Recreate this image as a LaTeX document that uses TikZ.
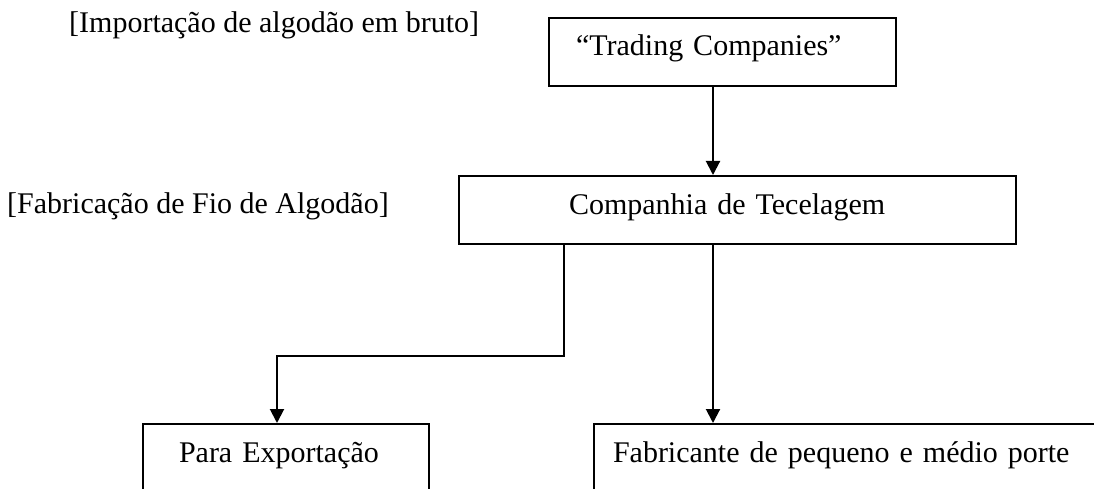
\documentclass[tikz,border=0pt]{standalone}
\usepackage{fontspec}
\setmainfont{Liberation Serif}
\usetikzlibrary{arrows.meta}

\tikzset{
  box/.style={draw, line width=2pt, anchor=north west, minimum height=68pt,
    align=left, text height=20pt, text depth=12pt, inner ysep=0pt},
  arrow/.style={line width=2pt, -{Triangle[length=14pt,width=14pt]}},
  lbl/.style={anchor=west, inner sep=0pt}
}

\begin{document}
\begin{tikzpicture}[x=1pt, y=-1pt, font=\fontsize{30}{36}\selectfont]
\useasboundingbox (0,0) rectangle (1094,489);
\clip (0,0) rectangle (1094,489);

% labels on the left
\node[lbl] (import) at (69,25) {[Importação de algodão em bruto]};
\node[lbl] (fabric) at (7,206) {[Fabricação de Fio de Algodão]};

% boxes
\node[box, text width=293pt, inner xsep=27pt] (trading) at (548,17) {“Trading Companies”};
\node[box, text width=337pt, inner xsep=110pt] (comp) at (458,175) {Companhia de Tecelagem};
\node[box, text width=214pt, inner xsep=36pt] (export) at (142,423) {Para Exportação};
\node[box, text width=479pt, inner xsep=19pt] (maker) at (593,423) {Fabricante de pequeno e médio porte};

\coordinate (mid) at (713,0); % central line
\coordinate (bend) at (564,356);
\coordinate (drop) at (277,356);

\draw[arrow] (mid |- trading.south) -- (mid |- comp.north);
\draw[arrow] (mid |- comp.south) -- (mid |- maker.north);
\draw[arrow] (bend |- comp.south) -- (bend) -- (drop) -- (drop |- export.north);
\end{tikzpicture}
\end{document}
